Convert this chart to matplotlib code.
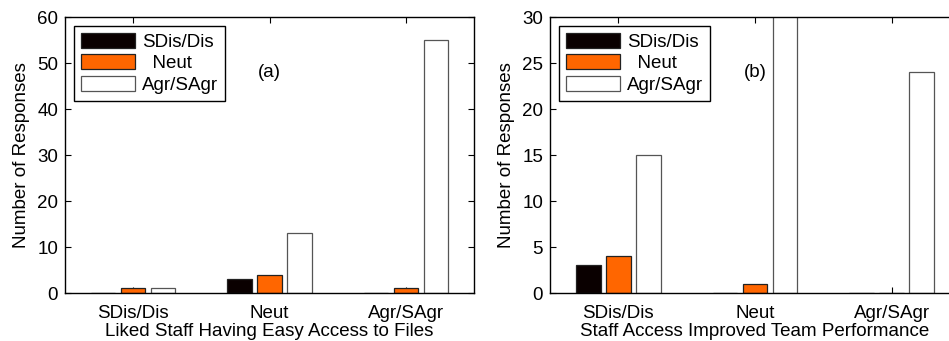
import numpy as np
import matplotlib
matplotlib.use('Agg')
import matplotlib.pyplot as plt

plt.rcParams['font.family'] = ['Liberation Sans', 'DejaVu Sans']

groups = ['SDis/Dis', 'Neut', 'Agr/SAgr']
series = ['SDis/Dis', '  Neut', 'Agr/SAgr']

# (a) Liked staff having easy access to files
a_dis = [0, 3, 0]
a_neut = [1, 4, 1]
a_agr = [1, 13, 55]

# (b) Staff access improved team performance
b_dis = [3, 0, 0]
b_neut = [4, 1, 0]
b_agr = [15, 31, 24]

face = ['#0a0000', '#ff6600', 'white']
edge = ['#222222', '#222222', '#555555']

W, H = 949, 341
FS = 13.5
fig = plt.figure(figsize=(W / 100, H / 100), dpi=100)

def make_ax(x0, x1, y0, y1):
    return fig.add_axes([x0 / W, 1 - y1 / H, (x1 - x0) / W, (y1 - y0) / H])

ax1 = make_ax(65, 474, 17, 293)
ax2 = make_ax(550, 960, 17, 293)

x = np.arange(1, 4)
off = 0.22
bw = 0.18

def draw(ax, vals, ymax, yticks, xlabel, tag):
    for i, v in enumerate(vals):
        ax.bar(x + (i - 1) * off, v, bw, color=face[i], edgecolor=edge[i],
               linewidth=0.9, label=series[i], zorder=2)
    ax.set_xlim(0.5, 3.5)
    ax.set_ylim(0, ymax)
    ax.set_yticks(yticks)
    ax.set_xticks(x)
    ax.set_xticklabels(groups)
    ax.tick_params(direction='in', top=True, right=True, labelsize=FS,
                   length=4, width=0.8, pad=5)
    ax.tick_params(axis='x', pad=9)
    ax.set_ylabel('Number of Responses', fontsize=FS, labelpad=5)
    ax.set_xlabel(xlabel, fontsize=FS, labelpad=0)
    for s in ax.spines.values():
        s.set_linewidth(1.0)
    ax.text(2.0, ymax * 0.8, tag, fontsize=FS, ha='center', va='center')
    leg = ax.legend(loc='upper left', bbox_to_anchor=(0.022, 0.967),
                    borderaxespad=0, fancybox=False, edgecolor='black',
                    fontsize=FS, handlelength=2.9, handleheight=0.85,
                    labelspacing=0.2, handletextpad=0.4, borderpad=0.35,
                    framealpha=1)
    leg.get_frame().set_linewidth(1.0)

draw(ax1, [a_dis, a_neut, a_agr], 60, range(0, 61, 10),
     'Liked Staff Having Easy Access to Files', '(a)')
draw(ax2, [b_dis, b_neut, b_agr], 30, range(0, 31, 5),
     'Staff Access Improved Team Performance', '(b)')

fig.savefig('out.png', dpi=100)
